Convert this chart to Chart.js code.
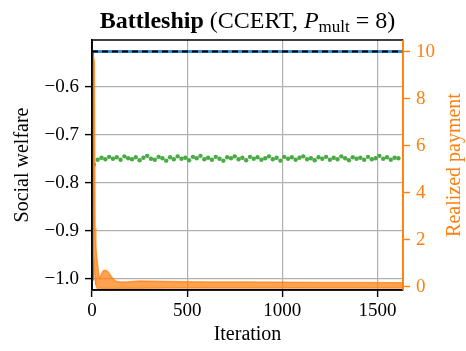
<!DOCTYPE html>
<html>
<head>
<meta charset="utf-8">
<script src="https://cdn.jsdelivr.net/npm/chart.js@4.4.1/dist/chart.umd.min.js"></script>
<style>
  html, body { margin: 0; padding: 0; background: #fff; }
  #wrap { width: 466px; height: 351px; }
</style>
</head>
<body>
<div id="wrap"><canvas id="myChart" width="466" height="351"></canvas></div>
<script>
// ---- data ----
const xTicks = [0, 500, 1000, 1500];
const welfareTicks = [-1.0, -0.9, -0.8, -0.7, -0.6];
const paymentTicks = [0, 2, 4, 6, 8, 10];

// social welfare (blue) and optimum (black dashed)
const welfareIters = [0, 3, 1634];
const welfareVals = [-1.0, -0.527, -0.527];
const optimumIters = [0, 1634];
const optimumVals = [-0.527, -0.527];

// green scatter
const greenIters = [10, 30, 50, 70, 90, 110, 130, 150, 170, 190,
  210, 230, 250, 270, 290, 310, 330, 350, 370, 390,
  410, 430, 450, 470, 490, 510, 530, 550, 570, 590,
  610, 630, 650, 670, 690, 710, 730, 750, 770, 790,
  810, 830, 850, 870, 890, 910, 930, 950, 970, 990,
  1010, 1030, 1050, 1070, 1090, 1110, 1130, 1150, 1170, 1190,
  1210, 1230, 1250, 1270, 1290, 1310, 1330, 1350, 1370, 1390,
  1410, 1430, 1450, 1470, 1490, 1510, 1530, 1550, 1570, 1590, 1610];
const greenVals = [-0.762, -0.752, -0.748, -0.751, -0.746, -0.750, -0.747, -0.752, -0.745, -0.749,
  -0.751, -0.747, -0.753, -0.748, -0.744, -0.750, -0.752, -0.746, -0.749, -0.754,
  -0.747, -0.751, -0.745, -0.750, -0.748, -0.753, -0.746, -0.749, -0.744, -0.751,
  -0.748, -0.752, -0.746, -0.750, -0.754, -0.747, -0.749, -0.745, -0.751, -0.748,
  -0.753, -0.746, -0.750, -0.747, -0.752, -0.749, -0.745, -0.751, -0.748, -0.754,
  -0.746, -0.750, -0.747, -0.752, -0.748, -0.745, -0.751, -0.749, -0.753, -0.747,
  -0.750, -0.746, -0.752, -0.748, -0.751, -0.745, -0.749, -0.753, -0.747, -0.750,
  -0.748, -0.752, -0.746, -0.751, -0.749, -0.744, -0.750, -0.747, -0.752, -0.748, -0.749];

// realized payment band (orange, right axis)
const payIters = [0, 6, 12, 16, 20, 24, 30, 36, 42, 50, 60, 72, 85, 100, 115, 130, 150, 180, 250, 400, 600, 800, 1000, 1200, 1400, 1634];
const payUpper = [10.0, 9.8, 9.6, 2.5, 1.8, 1.3, 0.9, 0.45, 0.35, 0.55, 0.68, 0.7, 0.62, 0.45, 0.3, 0.22, 0.2, 0.2, 0.24, 0.22, 0.2, 0.2, 0.19, 0.18, 0.18, 0.17];
const payLower = [9.5, 1.5, 0.8, 0.4, 0.1, 0.0, -0.1, -0.08, -0.05, -0.08, -0.08, -0.08, -0.08, -0.08, -0.08, -0.08, -0.07, -0.07, -0.07, -0.06, -0.06, -0.06, -0.06, -0.06, -0.06, -0.06];

const SERIF = '"Liberation Serif", "DejaVu Serif", serif';
const ORANGE = '#ff7f0e';
const BAND = 'rgba(255,127,14,0.72)';

function pts(xs, ys) { return xs.map((x, i) => ({ x: x, y: ys[i] })); }
function fmt(v) { return (v < 0 ? '\u2212' : '') + Math.abs(v).toFixed(1); }

const framePlugin = {
  id: 'frame',
  afterDatasetsDraw(chart) {
    const { ctx, chartArea: a } = chart;
    ctx.save();
    ctx.lineWidth = 1.6;
    ctx.strokeStyle = '#000';
    ctx.beginPath();
    ctx.moveTo(a.left, a.bottom); ctx.lineTo(a.left, a.top); ctx.lineTo(a.right, a.top);
    ctx.moveTo(a.left, a.bottom); ctx.lineTo(a.right, a.bottom);
    ctx.stroke();
    ctx.strokeStyle = ORANGE;
    ctx.beginPath();
    ctx.moveTo(a.right, a.top); ctx.lineTo(a.right, a.bottom);
    ctx.stroke();
    ctx.restore();
  },
  afterDraw(chart) {
    const { ctx, chartArea: a } = chart;
    ctx.save();
    // title with subscript
    const parts = [
      { t: 'Battleship', f: 'bold 24px ' + SERIF, dy: 0 },
      { t: ' (CCERT, ', f: '24px ' + SERIF, dy: 0 },
      { t: 'P', f: 'italic 24px ' + SERIF, dy: 0 },
      { t: 'mult', f: '17px ' + SERIF, dy: 4 },
      { t: ' = 8)', f: '24px ' + SERIF, dy: 0 }
    ];
    let total = 0;
    parts.forEach(p => { ctx.font = p.f; p.w = ctx.measureText(p.t).width; total += p.w; });
    let x = (a.left + a.right) / 2 - total / 2;
    ctx.fillStyle = '#000';
    ctx.textBaseline = 'alphabetic';
    parts.forEach(p => { ctx.font = p.f; ctx.fillText(p.t, x, 28 + p.dy); x += p.w; });
    // right axis title, reading bottom to top
    ctx.translate(455, (a.top + a.bottom) / 2);
    ctx.rotate(-Math.PI / 2);
    ctx.font = '20px ' + SERIF;
    ctx.fillStyle = ORANGE;
    ctx.textAlign = 'center';
    ctx.textBaseline = 'middle';
    ctx.fillText('Realized payment', 0, 0);
    ctx.restore();
  }
};

new Chart(document.getElementById('myChart'), {
  type: 'line',
  data: {
    datasets: [
      {
        label: 'payment upper',
        data: pts(payIters, payUpper),
        yAxisID: 'y1',
        borderColor: BAND,
        backgroundColor: BAND,
        borderWidth: 1.5,
        pointRadius: 0,
        fill: '+1',
        tension: 0
      },
      {
        label: 'payment lower',
        data: pts(payIters, payLower),
        yAxisID: 'y1',
        borderColor: BAND,
        backgroundColor: BAND,
        borderWidth: 1.5,
        pointRadius: 0,
        fill: false
      },
      {
        label: 'optimum',
        data: pts(optimumIters, optimumVals),
        yAxisID: 'y',
        borderColor: '#000',
        borderWidth: 2,
        borderDash: [6, 4],
        pointRadius: 0,
        fill: false
      },
      {
        label: 'Social welfare',
        data: pts(welfareIters, welfareVals),
        yAxisID: 'y',
        borderColor: '#3a8ad0',
        borderWidth: 3,
        pointRadius: 0,
        fill: false
      },
      {
        label: 'green',
        data: pts(greenIters, greenVals),
        yAxisID: 'y',
        showLine: false,
        pointRadius: 2.2,
        pointBorderWidth: 0,
        pointBackgroundColor: '#4aab45',
        borderColor: '#4aab45',
        fill: false
      }
    ]
  },
  options: {
    responsive: false,
    animation: false,
    layout: { padding: { top: 40, left: 0, right: 0, bottom: 0 } },
    plugins: {
      legend: { display: false },
      tooltip: { enabled: false },
      title: { display: false }
    },
    scales: {
      x: {
        type: 'linear',
        min: 0,
        max: 1634,
        afterFit: s => { s.height = 61; },
        afterBuildTicks: s => { s.ticks = xTicks.map(v => ({ value: v })); },
        grid: { color: '#b0b0b0', lineWidth: 1.2, tickLength: 7, tickColor: '#000', tickWidth: 1.4 },
        border: { color: '#000', width: 1.6 },
        ticks: { color: '#000', font: { family: SERIF, size: 19 }, padding: 3, maxRotation: 0, callback: v => String(v) },
        title: { display: true, text: 'Iteration', color: '#000', font: { family: SERIF, size: 20 }, padding: { top: 0, bottom: 4 } }
      },
      y: {
        position: 'left',
        min: -1.023,
        max: -0.503,
        afterFit: s => { s.width = 92; },
        afterBuildTicks: s => { s.ticks = welfareTicks.map(v => ({ value: v })); },
        grid: { color: '#b0b0b0', lineWidth: 1.2, tickLength: 7, tickColor: '#000', tickWidth: 1.4 },
        border: { color: '#000', width: 1.6 },
        ticks: { color: '#000', font: { family: SERIF, size: 19 }, padding: 6, callback: v => fmt(v) },
        title: { display: true, text: 'Social welfare', color: '#000', font: { family: SERIF, size: 20 }, padding: { top: 11, bottom: 0 } }
      },
      y1: {
        position: 'right',
        min: -0.14,
        max: 10.5,
        afterFit: s => { s.width = 63; },
        afterBuildTicks: s => { s.ticks = paymentTicks.map(v => ({ value: v })); },
        grid: { display: true, drawOnChartArea: false, tickLength: 7, tickColor: ORANGE, tickWidth: 1.4 },
        border: { color: ORANGE, width: 1.6 },
        ticks: { color: ORANGE, font: { family: SERIF, size: 19 }, padding: 6 }
      }
    }
  },
  plugins: [framePlugin]
});
</script>
</body>
</html>
